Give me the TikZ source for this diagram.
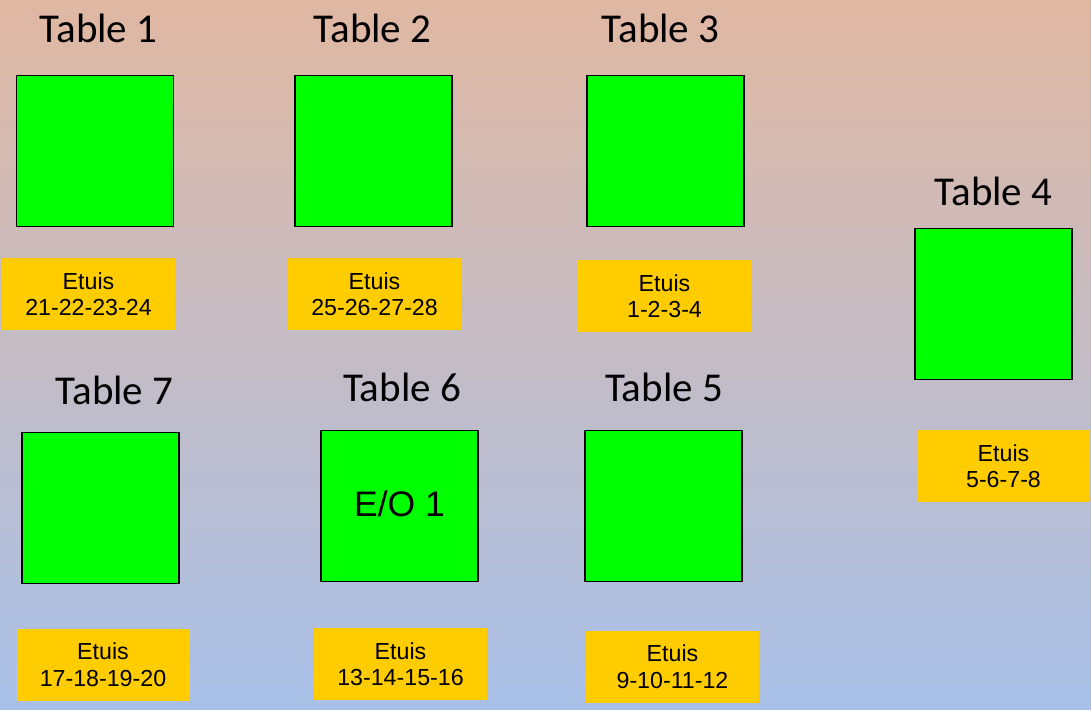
\documentclass[tikz,border=0pt]{standalone}
\usepackage{fontspec}
\setmainfont{Carlito}
\newfontfamily\arialfont{Liberation Sans}
\usetikzlibrary{positioning}

\definecolor{tablegreen}{RGB}{0,255,0}
\definecolor{etuiyellow}{RGB}{255,204,0}
\definecolor{bgtop}{RGB}{224,184,162}
\definecolor{bgbottom}{RGB}{168,192,232}

\tikzset{
  tablebox/.style={draw=black, line width=1.4pt, fill=tablegreen, minimum width=157pt, minimum height=151pt, inner sep=0pt,
    font=\arialfont\fontsize{35.5}{40}\selectfont},
  etuibox/.style={fill=etuiyellow, minimum width=173pt, minimum height=72pt, inner sep=0pt, align=center,
    font=\arialfont\fontsize{23.2}{26.5}\selectfont},
  tabletitle/.style={anchor=base, inner sep=0pt, font=\fontsize{41}{44}\selectfont}
}

\begin{document}
\begin{tikzpicture}[x=1pt, y=-1pt]
  % background
  \shade[top color=bgtop, bottom color=bgbottom] (0,0) rectangle (1091,709);
  \useasboundingbox (0,0) rectangle (1091,709);

  % top row
  \node[tablebox] (t1) at (95,151) {};
  \node[tablebox] (t2) at (373.5,151) {};
  \node[tablebox] (t3) at (665.5,151) {};
  \node[tabletitle] (title1) at (98.5,43) {Table 1};
  \node[tabletitle] (title2) at (372.5,43) {Table 2};
  \node[tabletitle] (title3) at (660.5,43) {Table 3};
  \node[etuibox] (e1) at (88.5,294) {Etuis\\21-22-23-24};
  \node[etuibox] (e2) at (374.5,294) {Etuis\\25-26-27-28};
  \node[etuibox] (e3) at (664.5,296) {Etuis\\1-2-3-4};

  % right side
  \node[tablebox] (t4) at (993.5,304) {};
  \node[tabletitle] (title4) at (993.5,205) {Table 4};
  \node[etuibox] (e4) at (1003.5,466) {Etuis\\5-6-7-8};

  % bottom row
  \node[tablebox] (t7) at (100.5,508) {};
  \node[tablebox] (t6) at (399.5,506) {\raisebox{4pt}{E/O 1}};
  \node[tablebox] (t5) at (663.5,506) {};
  \node[tabletitle] (title7) at (114.5,404) {Table 7};
  \node[tabletitle] (title6) at (402,401) {Table 6};
  \node[tabletitle] (title5) at (664,401) {Table 5};
  \node[etuibox] (e7) at (103,664.5) {Etuis\\17-18-19-20};
  \node[etuibox] (e6) at (400.5,664) {Etuis\\13-14-15-16};
  \node[etuibox] (e5) at (672.5,666.5) {Etuis\\9-10-11-12};
\end{tikzpicture}
\end{document}
